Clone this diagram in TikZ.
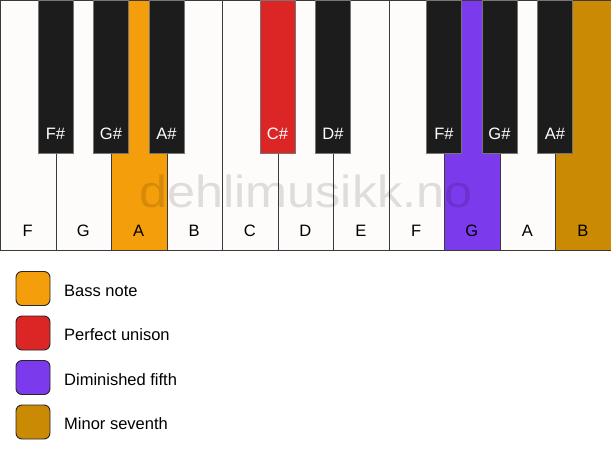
\documentclass[tikz,border=0pt]{standalone}
\usepackage{fontspec}
\setmainfont{Liberation Sans}
\definecolor{bass}{HTML}{F59E0B}
\definecolor{unison}{HTML}{DC2626}
\definecolor{dimfifth}{HTML}{7C3AED}
\definecolor{minseventh}{HTML}{CA8A04}
\definecolor{ivory}{HTML}{FDFCFA}
\definecolor{ebony}{HTML}{1C1C1C}
\definecolor{keyline}{HTML}{3A3A3A}
\tikzset{
  whitekey/.style={draw=keyline, line width=1.3pt, fill=ivory, minimum width=55.5pt, minimum height=250pt, inner sep=0pt, anchor=north west},
  blackkey/.style={draw=keyline!70, line width=0.8pt, fill=ebony, minimum width=35pt, minimum height=153pt, inner sep=0pt, anchor=north},
  wlabel/.style={font=\fontsize{16.5}{16.5}\selectfont, text=black, anchor=base},
  blabel/.style={font=\fontsize{16.5}{16.5}\selectfont, text=white, anchor=base},
  legendbox/.style={draw=black!85, line width=0.9pt, rounded corners=6pt, minimum width=34pt, minimum height=34pt, inner sep=0pt},
  legendtext/.style={font=\fontsize{16.5}{16.5}\selectfont, anchor=base west, inner sep=0pt},
}
\begin{document}
\begin{tikzpicture}[x=1pt,y=-1pt]
\useasboundingbox (0,0) rectangle (611,461);
\fill[white] (0,0) rectangle (611,461);
% white keys
\foreach \i/\n/\c in {0/F/ivory,1/G/ivory,2/A/bass,3/B/ivory,4/C/ivory,5/D/ivory,6/E/ivory,7/F/ivory,8/G/dimfifth,9/A/ivory,10/B/minseventh}{
  \node[whitekey, fill=\c] (w\i) at (55.5*\i,0) {};
  \node[wlabel] (wl\i) at (55.5*\i+27.75,236) {\n};
}
% watermark
\node[font=\fontsize{45}{45}\selectfont, text=black, text opacity=0.12, xscale=1.12, transform shape, anchor=base] (wm) at (306,207) {dehlimusikk.no};
% black keys
\foreach \k/\n/\c in {1/F\#/ebony,2/G\#/ebony,3/A\#/ebony,5/C\#/unison,6/D\#/ebony,8/F\#/ebony,9/G\#/ebony,10/A\#/ebony}{
  \node[blackkey, fill=\c] (b\k) at (55.5*\k,0) {};
  \node[blabel] (bl\k) at (55.5*\k,139) {\n};
}
% legend
\foreach \j/\c/\t in {0/bass/Bass note,1/unison/Perfect unison,2/dimfifth/Diminished fifth,3/minseventh/Minor seventh}{
  \node[legendbox, fill=\c] (lb\j) at (33,288.5+44.5*\j) {};
  \node[legendtext] (lt\j) at (64,296+44.5*\j) {\t};
}
\end{tikzpicture}
\end{document}
